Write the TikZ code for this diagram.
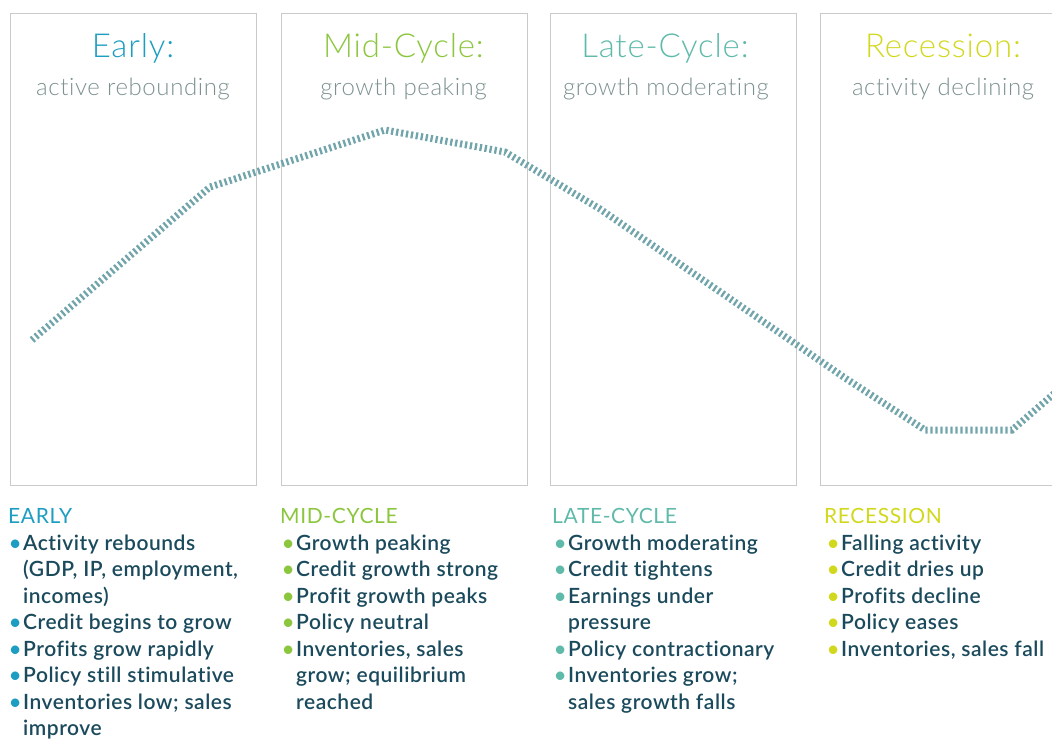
\documentclass[tikz,border=0pt]{standalone}
\usepackage{fontspec}
\newfontfamily\bodyfont[LetterSpace=2.5,Ligatures=NoCommon]{Lato Semibold}
\newfontfamily\lightfont[LetterSpace=2.5,Ligatures=NoCommon]{Lato Light}
\newfontfamily\headfont[LetterSpace=3,Ligatures=NoCommon]{Lato}
\definecolor{earlyc}{HTML}{1C9DC1}
\definecolor{midc}{HTML}{8CC63F}
\definecolor{latec}{HTML}{5FBAAA}
\definecolor{recc}{HTML}{D2D81E}
\definecolor{subc}{HTML}{7C9190}
\definecolor{bodyc}{HTML}{1A4A5C}
\definecolor{boxc}{HTML}{CACACA}
\definecolor{curvec}{HTML}{72A5AB}
\newcommand{\bl}[1]{\makebox[14pt][l]{\textcolor{#1}{\textbullet}}}
\newcommand{\ct}{\hspace*{14pt}}
\tikzset{
  phasebox/.style={draw=boxc, line width=1.3pt, minimum width=246pt, minimum height=472pt, inner sep=0pt, anchor=north west},
  ptitle/.style={font=\lightfont\fontsize{33}{33}\selectfont, anchor=base, inner sep=0pt},
  psub/.style={font=\lightfont\fontsize{24}{24}\selectfont, text=subc, anchor=base, inner sep=0pt},
  phead/.style={font=\headfont\fontsize{21}{21}\selectfont, anchor=base west, inner sep=0pt},
  plist/.style={font=\bodyfont\fontsize{21}{26.5}\selectfont, text=bodyc, align=left, anchor=north west, inner sep=0pt},
  cycle curve/.style={draw=curvec, line width=7pt, dash pattern=on 2.3pt off 2.7pt},
}
\begin{document}
\begin{tikzpicture}[x=1pt,y=-1pt]
\useasboundingbox (0,0) rectangle (1052,739);
% boxes
\node[phasebox] (b1) at (10,13) {};
\node[phasebox] (b2) at (281,13) {};
\node[phasebox] (b3) at (550,13) {};
\node[phasebox] (b4) at (820,13) {};
% curve
\coordinate (c0) at (32,340);
\coordinate (c1) at (210,187);
\coordinate (c2) at (385,130);
\coordinate (c3) at (505,152);
\coordinate (c4) at (600,209);
\coordinate (c5) at (845,378);
\coordinate (c6) at (925,430);
\coordinate (c7) at (1012,430);
\coordinate (c8) at (1056,392);
\draw[cycle curve] (c0) -- (c1) -- (c2) -- (c3) -- (c4) -- (c5) -- (c6) -- (c7) -- (c8);
% titles
\node[ptitle, text=earlyc] (t1) at (133,57) {Early:};
\node[psub] (s1) at (133,95) {active rebounding};
\node[ptitle, text=midc] (t2) at (403.5,57) {Mid-Cycle:};
\node[psub] (s2) at (403.5,95) {growth peaking};
\node[ptitle, text=latec] (t3) at (665,57) {Late-Cycle:};
\node[psub] (s3) at (666,95) {growth moderating};
\node[ptitle, text=recc] (t4) at (943,57) {Recession:};
\node[psub] (s4) at (943,95) {activity declining};
% headings
\node[phead, text=earlyc] (h1) at (8,523) {EARLY};
\node[phead, text=midc] (h2) at (280,523) {MID-CYCLE};
\node[phead, text=latec] (h3) at (552,523) {LATE-CYCLE};
\node[phead, text=recc] (h4) at (824,523) {RECESSION};
% lists
\node[plist] (l1) at (9,531) {\rule{0pt}{19pt}\bl{earlyc}Activity rebounds\\
\ct(GDP, IP, employment,\\
\ct incomes)\\
\bl{earlyc}Credit begins to grow\\
\bl{earlyc}Profits grow rapidly\\
\bl{earlyc}Policy still stimulative\\
\bl{earlyc}Inventories low; sales\\
\ct improve};
\node[plist] (l2) at (282,531) {\rule{0pt}{19pt}\bl{midc}Growth peaking\\
\bl{midc}Credit growth strong\\
\bl{midc}Profit growth peaks\\
\bl{midc}Policy neutral\\
\bl{midc}Inventories, sales\\
\ct grow; equilibrium\\
\ct reached};
\node[plist] (l3) at (554,531) {\rule{0pt}{19pt}\bl{latec}Growth moderating\\
\bl{latec}Credit tightens\\
\bl{latec}Earnings under\\
\ct pressure\\
\bl{latec}Policy contractionary\\
\bl{latec}Inventories grow;\\
\ct sales growth falls};
\node[plist] (l4) at (827,531) {\rule{0pt}{19pt}\bl{recc}Falling activity\\
\bl{recc}Credit dries up\\
\bl{recc}Profits decline\\
\bl{recc}Policy eases\\
\bl{recc}Inventories, sales fall};
\end{tikzpicture}
\end{document}
